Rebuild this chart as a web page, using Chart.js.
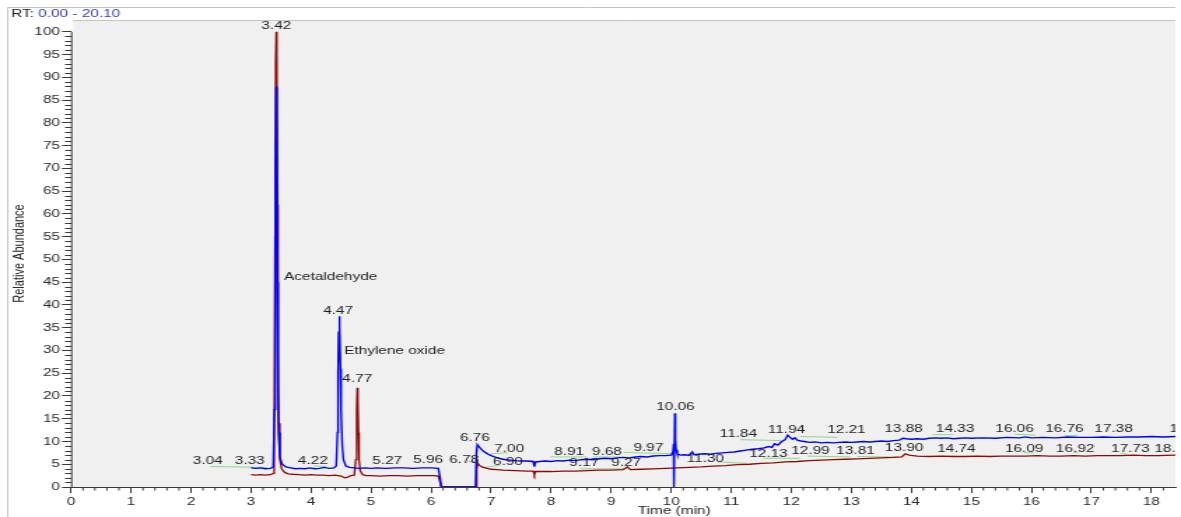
<!DOCTYPE html>
<html>
<head>
<meta charset="utf-8">
<script src="https://cdn.jsdelivr.net/npm/chart.js@4/dist/chart.umd.min.js"></script>
<style>
    html, body { margin: 0; padding: 0; background: #fff; overflow: hidden; }
    /* the original screenshot is stretched sideways, so the whole canvas is too */
    #wrap { width: 844px; height: 517px; transform: scaleX(1.3993); transform-origin: 0 0; }
</style>
</head>
<body>
<div id="wrap"><canvas id="chrom" width="844" height="517"></canvas></div>
<script>
    // blue trace (time in min, relative abundance in %)
    let blueTime = [3.00, 3.08, 3.16, 3.24, 3.32, 3.37, 3.39, 3.40, 3.41, 3.42, 3.43, 3.44, 3.45, 3.46, 3.48, 3.52, 3.58, 3.66, 3.74, 3.82,
        3.90, 3.98, 4.06, 4.14, 4.22, 4.30, 4.38, 4.42, 4.44, 4.45, 4.46, 4.47, 4.48, 4.49, 4.50, 4.52, 4.54, 4.58, 4.64, 4.72,
        4.80, 4.90, 5.00, 5.10, 5.25, 5.40, 5.55, 5.70, 5.85, 6.00, 6.12, 6.15, 6.17, 6.40, 6.60, 6.74, 6.755, 6.77, 6.80, 6.85,
        6.90, 6.95, 7.00, 7.08, 7.16, 7.24, 7.32, 7.40, 7.50, 7.60, 7.70, 7.72, 7.74, 7.80, 7.90, 8.00, 8.10, 8.20, 8.30, 8.40,
        8.50, 8.60, 8.70, 8.80, 8.90, 9.00, 9.10, 9.20, 9.30, 9.40, 9.50, 9.60, 9.70, 9.80, 9.90, 10.00, 10.03, 10.04, 10.045, 10.06,
        10.07, 10.08, 10.10, 10.15, 10.22, 10.30, 10.35, 10.38, 10.45, 10.55, 10.65, 10.75, 10.85, 10.95, 11.05, 11.15, 11.25, 11.35, 11.45, 11.55,
        11.62, 11.68, 11.72, 11.78, 11.84, 11.90, 11.94, 11.98, 12.02, 12.06, 12.10, 12.16, 12.22, 12.30, 12.40, 12.50, 12.60, 12.70, 12.80, 12.90,
        13.00, 13.10, 13.20, 13.30, 13.40, 13.50, 13.60, 13.70, 13.80, 13.86, 13.92, 14.00, 14.10, 14.20, 14.30, 14.40, 14.50, 14.60, 14.70, 14.80,
        14.90, 15.00, 15.20, 15.40, 15.60, 15.80, 15.90, 16.00, 16.20, 16.40, 16.60, 16.80, 17.00, 17.20, 17.40, 17.60, 17.80, 18.00, 18.20, 18.40];
    let blueAbund = [4.2, 4.1, 4.2, 4.0, 4.1, 4.4, 17, 35, 70, 88, 80, 45, 22, 12, 6.5, 5.0, 4.4, 4.2, 4.0, 4.1,
        4.0, 4.2, 4.0, 4.1, 4.3, 4.1, 4.2, 4.6, 12, 25, 34, 37.5, 35, 26, 17, 9, 6, 4.6, 4.3, 4.2,
        4.1, 4.2, 4.1, 4.2, 4.1, 4.2, 4.2, 4.1, 4.2, 4.2, 4.1, 2.0, 0, 0, 0, 0, 7.5, 9.3, 8.8, 8.1,
        7.6, 7.2, 6.9, 6.5, 6.2, 6.0, 5.9, 5.8, 5.7, 5.7, 5.6, 4.5, 5.5, 5.6, 5.7, 5.6, 5.8, 5.7, 5.9, 5.8,
        6.0, 6.1, 6.0, 6.2, 6.3, 6.2, 6.4, 6.5, 6.4, 6.6, 6.7, 6.6, 6.8, 6.9, 6.9, 7.0, 7.8, 9.5, 0, 16.2,
        10.5, 8.2, 7.3, 7.0, 7.1, 7.0, 7.7, 7.1, 7.2, 7.3, 7.2, 7.4, 7.5, 7.6, 7.7, 7.9, 8.1, 8.3, 8.4, 8.6,
        8.9, 8.7, 9.5, 9.2, 10.0, 10.4, 11.4, 10.9, 10.5, 10.8, 10.3, 10.1, 10.0, 9.8, 9.9, 9.7, 9.8, 9.7, 9.8, 9.9,
        9.8, 9.9, 10.0, 9.9, 10.0, 10.1, 10.0, 10.2, 10.3, 10.7, 10.6, 10.5, 10.6, 10.5, 10.7, 10.8, 10.7, 10.8, 10.6, 10.7,
        10.8, 10.7, 10.8, 10.7, 10.9, 10.8, 11.0, 10.8, 10.9, 10.8, 11.0, 10.9, 10.9, 11.0, 10.9, 11.0, 11.0, 11.1, 11.0, 11.1];

    // dark red trace
    let redTime = [3.00, 3.08, 3.16, 3.24, 3.32, 3.37, 3.385, 3.40, 3.41, 3.42, 3.43, 3.44, 3.45, 3.46, 3.48, 3.51, 3.56, 3.62, 3.70, 3.80,
        3.90, 4.00, 4.10, 4.20, 4.30, 4.40, 4.50, 4.56, 4.60, 4.66, 4.72, 4.745, 4.76, 4.77, 4.78, 4.79, 4.80, 4.82, 4.86, 4.92,
        5.00, 5.15, 5.30, 5.45, 5.60, 5.75, 5.90, 6.05, 6.12, 6.15, 6.17, 6.40, 6.60, 6.745, 6.76, 6.78, 6.80, 6.85, 6.90, 7.00,
        7.10, 7.20, 7.40, 7.60, 7.70, 7.72, 7.74, 7.80, 8.00, 8.20, 8.40, 8.60, 8.80, 9.00, 9.20, 9.27, 9.32, 9.50, 9.70, 9.90,
        10.10, 10.30, 10.50, 10.70, 10.90, 11.10, 11.30, 11.50, 11.70, 11.90, 12.10, 12.30, 12.50, 12.70, 12.90, 13.10, 13.30, 13.50, 13.70, 13.84,
        13.90, 13.96, 14.10, 14.30, 14.50, 14.70, 14.90, 15.10, 15.30, 15.50, 15.70, 15.90, 16.10, 16.30, 16.50, 16.70, 16.90, 17.10, 17.30, 17.50,
        17.70, 17.90, 18.10, 18.40];
    let redAbund = [2.7, 2.6, 2.7, 2.6, 2.7, 3.0, 12, 55, 93, 100, 94, 62, 30, 14, 6, 4, 3.2, 2.9, 2.8, 2.7,
        2.6, 2.7, 2.6, 2.6, 2.5, 2.6, 2.4, 2.0, 2.1, 2.5, 2.6, 6, 17, 21.8, 19, 12, 6, 3.5, 2.7, 2.5,
        2.5, 2.4, 2.5, 2.5, 2.4, 2.5, 2.5, 2.5, 2.4, 1.0, 0, 0, 0, 0, 4.0, 5.2, 4.8, 4.4, 4.2, 3.9,
        3.8, 3.7, 3.6, 3.5, 3.5, 2.7, 3.4, 3.4, 3.4, 3.5, 3.5, 3.6, 3.7, 3.7, 3.8, 4.4, 3.8, 3.9, 4.0, 4.1,
        4.2, 4.3, 4.4, 4.6, 4.7, 4.9, 5.0, 5.2, 5.3, 5.5, 5.6, 5.8, 5.9, 6.0, 6.1, 6.2, 6.3, 6.4, 6.5, 6.6,
        7.3, 7.0, 6.8, 6.7, 6.8, 6.7, 6.7, 6.8, 6.7, 6.8, 6.8, 6.8, 6.9, 6.8, 6.8, 6.9, 6.8, 6.9, 6.9, 6.9,
        7.0, 6.9, 6.9, 7.0];

    // green integration baselines: [start time, start abund, end time, end abund]
    let baselines = [
        [2.32, 4.5, 3.27, 4.3], [4.05, 4.6, 4.25, 4.5], [6.62, 5.6, 6.73, 5.5], [6.98, 7.3, 7.27, 7.5],
        [6.85, 4.2, 7.15, 4.8], [7.98, 6.6, 8.6, 6.6], [8.7, 6.6, 9.15, 6.6], [9.2, 7.6, 10.0, 7.3],
        [8.48, 4.0, 9.27, 4.0], [10.77, 5.5, 11.27, 5.2], [11.15, 10.4, 11.82, 10.2], [11.53, 6.3, 12.15, 6.3],
        [12.15, 11.1, 12.77, 10.9], [12.27, 6.8, 12.98, 6.6], [13.1, 6.7, 13.73, 6.6], [14.35, 11.5, 14.7, 11.5],
        [15.72, 11.6, 16.07, 11.4], [15.88, 7.5, 16.05, 7.5], [16.55, 11.3, 16.77, 11.3], [16.7, 7.6, 16.78, 7.6],
        [17.48, 7.4, 17.6, 7.2]
    ];

    // peak labels: text, centre time, centre abundance
    let peakText = ["3.42", "4.47", "4.77", "3.04", "3.33", "4.22", "5.27", "5.96", "6.78", "6.76",
        "7.00", "6.90", "8.91", "9.68", "9.97", "9.17", "9.27", "10.06", "11.30", "11.84",
        "12.13", "11.94", "12.21", "12.99", "13.81", "13.88", "13.90", "14.33", "14.74", "16.06",
        "16.09", "16.76", "16.92", "17.38", "17.73", "18.10", "18.51"];
    let peakTime = [3.42, 4.45, 4.77, 2.28, 2.98, 4.03, 5.27, 5.95, 6.55, 6.73,
        7.30, 7.28, 8.30, 8.93, 9.62, 8.55, 9.25, 10.07, 10.57, 11.12,
        11.62, 11.92, 12.92, 12.32, 13.07, 13.87, 13.88, 14.73, 14.75, 15.72,
        15.88, 16.55, 16.73, 17.37, 17.65, 18.37, 18.62];
    let peakAbund = [101.3, 38.7, 23.7, 5.7, 5.7, 5.7, 5.7, 5.9, 5.9, 10.8,
        8.4, 5.5, 7.7, 7.7, 8.6, 5.3, 5.3, 17.6, 6.2, 11.6,
        7.3, 12.5, 12.5, 7.9, 7.9, 12.7, 8.6, 12.7, 8.4, 12.7,
        8.4, 12.7, 8.4, 12.7, 8.4, 8.4, 12.7];

    // compound names, left aligned at the given time
    let nameText = ["Acetaldehyde", "Ethylene oxide"];
    let nameTime = [3.55, 4.55];
    let nameAbund = [46.2, 29.9];

    let xMax = 18.4, yMax = 102.6, rtEnd = 20.10;
    let fontFam = "'Liberation Sans', Arial, sans-serif";

    function toPoints(ts, vs) {
        return ts.map((t, i) => ({ x: t, y: vs[i] }));
    }

    function baselinePoints() {
        let pts = [];
        baselines.forEach(b => {
            pts.push({ x: b[0], y: b[1] }, { x: b[2], y: b[3] }, { x: b[2], y: null });
        });
        return pts;
    }

    const chromDecor = {
        id: 'chromDecor',
        beforeDraw(chart) {
            let ctx = chart.ctx, a = chart.chartArea;
            ctx.save();
            ctx.fillStyle = '#f0f0f0';
            ctx.fillRect(a.left + 1.5, a.top, a.right - a.left - 1.5, a.bottom - a.top);
            // outer frame
            ctx.strokeStyle = '#c4c4c4';
            ctx.lineWidth = 1;
            ctx.beginPath();
            ctx.moveTo(5.5, 517); ctx.lineTo(5.5, 7.5); ctx.lineTo(a.right, 7.5);
            ctx.moveTo(a.left + 1.5, a.top + 0.5); ctx.lineTo(a.right, a.top + 0.5);
            ctx.stroke();
            // RT range
            ctx.font = "11px " + fontFam;
            ctx.textBaseline = 'middle';
            ctx.textAlign = 'left';
            ctx.fillStyle = '#222';
            ctx.fillText("RT:", 7.9, 14);
            let w = ctx.measureText("RT: ").width;
            ctx.fillStyle = '#3a3ac4';
            ctx.fillText("0.00 - " + rtEnd.toFixed(2), 7.9 + w, 14);
            ctx.restore();
        },
        afterDraw(chart) {
            let ctx = chart.ctx, a = chart.chartArea;
            let xs = chart.scales.x, ys = chart.scales.y;
            ctx.save();
            ctx.strokeStyle = '#3a3a3a';
            ctx.lineWidth = 1;
            ctx.beginPath();
            // y axis line runs 0..100 only
            ctx.moveTo(a.left + 0.5, ys.getPixelForValue(100));
            ctx.lineTo(a.left + 0.5, a.bottom);
            // minor ticks
            for (let v = 1; v < 100; v++) {
                if (v % 5 === 0) continue;
                let py = Math.round(ys.getPixelForValue(v)) + 0.5;
                ctx.moveTo(a.left - 4.2, py); ctx.lineTo(a.left + 0.5, py);
            }
            for (let i = 1; i * 0.2 <= xMax; i++) {
                if (i % 5 === 0) continue;
                let px = xs.getPixelForValue(i * 0.2);
                ctx.moveTo(px, a.bottom); ctx.lineTo(px, a.bottom + 3.5);
            }
            ctx.stroke();

            // x title sits at the middle of the full RT range
            ctx.font = "11px " + fontFam;
            ctx.fillStyle = '#222';
            ctx.textAlign = 'center';
            ctx.textBaseline = 'middle';
            ctx.fillText("Time (min)", xs.getPixelForValue(rtEnd / 2), 511);

            // peak labels, clipped to the plot
            ctx.beginPath();
            ctx.rect(a.left, a.top, a.right - a.left, a.bottom - a.top);
            ctx.clip();
            ctx.fillStyle = '#1e1e1e';
            peakText.forEach((t, i) => {
                ctx.fillText(t, xs.getPixelForValue(peakTime[i]), ys.getPixelForValue(peakAbund[i]));
            });
            ctx.textAlign = 'left';
            nameText.forEach((t, i) => {
                ctx.fillText(t, xs.getPixelForValue(nameTime[i]), ys.getPixelForValue(nameAbund[i]));
            });
            ctx.restore();
        }
    };

    let ctx = document.getElementById("chrom").getContext("2d");
    let chart = new Chart(ctx, {
        type: 'line',
        data: {
            datasets: [
                { label: 'baselines', data: baselinePoints(), borderColor: '#8fd88f', borderWidth: 1, pointRadius: 0, spanGaps: false, order: 3 },
                { label: 'blue', data: toPoints(blueTime, blueAbund), borderColor: '#0000ff', borderWidth: 1.4, pointRadius: 0, tension: 0, order: 1 },
                { label: 'red', data: toPoints(redTime, redAbund), borderColor: '#8e0a0a', borderWidth: 1.3, pointRadius: 0, tension: 0, order: 2 }
            ]
        },
        options: {
            responsive: false,
            animation: false,
            events: [],
            layout: { padding: { left: 0, right: 4, top: 20, bottom: 0 } },
            plugins: { legend: { display: false }, tooltip: { enabled: false } },
            scales: {
                x: {
                    type: 'linear', min: 0, max: xMax,
                    afterFit: s => { s.height = 30; },
                    ticks: { stepSize: 1, includeBounds: false, autoSkip: false, maxRotation: 0, padding: 2, color: '#2a2a2a', font: { family: fontFam, size: 11 } },
                    grid: { drawOnChartArea: false, tickLength: 6, color: '#3a3a3a' },
                    border: { display: true, color: '#3a3a3a' }
                },
                y: {
                    type: 'linear', min: 0, max: yMax,
                    afterFit: s => { s.width = 50.7; },
                    ticks: { stepSize: 5, includeBounds: false, padding: 1.4, color: '#2a2a2a', font: { family: fontFam, size: 11 } },
                    grid: { drawOnChartArea: false, tickLength: 6.4, color: '#3a3a3a' },
                    border: { display: false },
                    title: { display: true, text: 'Relative Abundance', color: '#222', font: { family: fontFam, size: 11 }, padding: { top: 7.7, bottom: 0 } }
                }
            }
        },
        plugins: [chromDecor]
    });
</script>
</body>
</html>
